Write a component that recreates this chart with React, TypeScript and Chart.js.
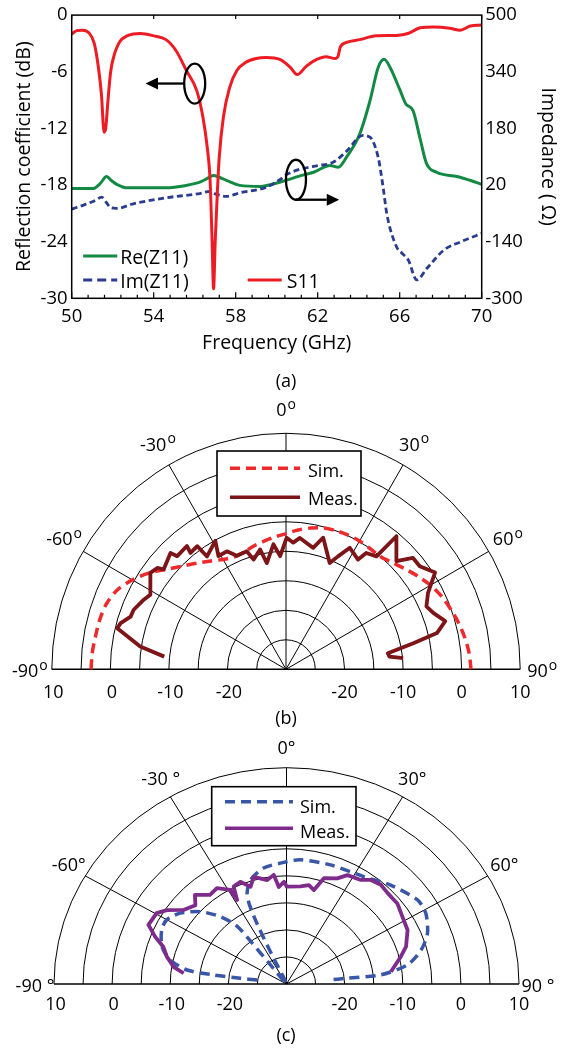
import React, { useEffect, useRef } from "react";
import { Chart, registerables } from "chart.js";

Chart.register(...registerables);

const FONT = '"Open Sans", "Liberation Sans", sans-serif';
const INK = "#000000";

/* ---------------- panel (a) data ---------------- */
const freqMin = 50;
const freqMax = 70;
const freqStep = 4;
const freqMinorStep = 0.8;
const dbMin = -30;
const dbMax = 0;
const dbStep = 6;
const ohmMin = -300;
const ohmMax = 500;
const ohmStep = 160;

const s11Freq = [50.0, 50.25, 50.5, 50.85, 51.1, 51.3, 51.45, 51.58, 51.66, 51.76, 51.9, 52.05, 52.35, 52.7, 53.0, 53.35, 54.0, 54.6, 55.1, 55.6, 56.1, 56.4, 56.6, 56.75, 56.85, 56.92, 57.0, 57.1, 57.2, 57.4, 57.7, 58.05, 58.5, 59.0, 59.5, 60.15, 60.65, 61.0, 61.45, 61.95, 62.4, 62.85, 63.0, 63.1, 63.4, 64.05, 64.85, 65.85, 66.4, 67.0, 67.65, 68.45, 68.95, 69.45, 70.0];
const s11Db = [-2.0, -1.65, -1.6, -1.9, -3.0, -5.5, -8.4, -12.4, -12.0, -9.3, -6.0, -4.4, -2.8, -2.2, -2.0, -1.95, -2.2, -2.6, -3.8, -5.9, -8.0, -10.8, -13.8, -17.5, -24.0, -29.0, -24.0, -19.0, -15.0, -10.8, -7.7, -5.9, -5.0, -4.6, -4.5, -4.7, -5.5, -6.3, -5.4, -4.7, -4.4, -4.6, -4.3, -3.4, -2.9, -2.6, -2.2, -2.15, -1.95, -1.35, -1.27, -1.4, -1.6, -1.15, -1.05];

const reFreq = [50.0, 51.05, 51.4, 51.7, 51.95, 52.2, 52.7, 54.6, 55.6, 56.25, 56.6, 56.9, 57.2, 57.55, 58.2, 59.2, 60.15, 61.1, 61.8, 62.6, 63.0, 63.4, 64.05, 64.55, 64.95, 65.24, 65.55, 66.0, 66.3, 66.65, 67.0, 67.3, 67.8, 68.8, 69.5, 70.0];
const reOhm = [10, 10, 25, 44, 32, 22, 12, 12, 19, 28, 38, 47, 42, 33, 19, 16, 28, 45, 56, 75, 70, 98, 164, 258, 352, 375, 350, 290, 249, 230, 150, 82, 56, 44, 32, 22];

const imFreq = [50.0, 50.7, 51.2, 51.46, 51.7, 51.9, 52.2, 53.0, 54.6, 56.25, 56.75, 57.0, 57.55, 58.2, 59.5, 60.15, 60.5, 61.1, 62.0, 62.75, 63.4, 64.2, 64.55, 64.95, 65.2, 65.37, 65.85, 66.1, 66.42, 66.83, 67.32, 68.15, 68.95, 70.0];
const imOhm = [-48, -34, -22, -14, -30, -44, -46, -33, -16, -4, 2, -5, -12, -2, 14, 35, 50, 64, 75, 84, 115, 160, 155, 98, 10, -61, -155, -172, -192, -248, -216, -164, -141, -117];

// annotation markers (data units)
const leftMarkerFreq = 56.0;
const leftMarkerDb = -7.25;
const leftArrowToFreq = 53.6;
const rightMarkerFreq = 60.94;
const rightMarkerDb = -17.44;
const rightArrowToFreq = 63.05;

/* ---------------- polar data ---------------- */
const polarMin = -30;
const polarMax = 10;
const polarRingStep = 5;
const polarSpokes = [-60, -30, 0, 30, 60];
const polarAngleLabels = [-90, -60, -30, 0, 30, 60, 90];
const polarValueLabels = [10, 0, -10, -20];

const simBAngle = [-90, -85, -80, -75, -70, -65, -60, -55, -50, -45, -40, -35, -30, -25, -20, -15, -10, -5, 0, 5, 10, 15, 20, 25, 30, 35, 40, 45, 50, 55, 60, 65, 70, 75, 80, 85, 90];
const simBDb = [3.3, 3.2, 3.0, 2.9, 2.6, 1.8, 0.3, -1.5, -3.6, -5.2, -6.5, -7.6, -8.5, -9.0, -8.9, -8.4, -8.0, -7.5, -7.0, -6.3, -5.7, -5.2, -5.0, -4.9, -4.9, -5.0, -5.0, -4.4, -3.5, -2.5, -1.5, -0.7, -0.1, 0.5, 1.0, 1.4, 1.6];

const measBAngle = [-84.1, -81.2, -76.4, -74.5, -71.4, -68.8, -64.1, -61.4, -54.8, -52, -51, -45, -44.1, -39, -39.6, -36, -35.2, -29, -31, -26.8, -23.6, -18.5, -16.6, -12.3, -10.3, -5.8, -3, 0.3, 3.3, 6.1, 9.3, 12.7, 15.9, 22.5, 24.9, 27.9, 33.5, 34.8, 38.9, 39.9, 45.8, 48.9, 52.6, 57.2, 61.9, 66, 69.2, 73.3, 76.6, 78.5, 81.1, 83.1, 84.6];
const measBDb = [-9.1, -4.8, -0.35, -0.7, -2.0, -2.1, -3.0, -3.6, -1.65, -2.1, -3.1, -2.1, -3.3, -3.1, -4.4, -4.2, -6.6, -5.1, -7.6, -7.6, -9.0, -8.9, -10.6, -9.2, -11.7, -8.7, -10.8, -7.7, -8.5, -7.6, -8.3, -8.9, -6.8, -10.5, -8.9, -6.7, -7.7, -6.0, -5.4, -0.6, -3.7, -1.25, -1.25, 0.3, -2.5, -3.75, -3.1, -1.6, -3.5, -7.8, -12.4, -12.2, -9.9];

const simCAngle = [-81.7, -82.4, -82.4, -81.4, -77.5, -72.2, -65, -60.1, -54.4, -48, -42.5, -38.5, -38, -38, -38, -25, -24.5, -23.5, -22, -17.9, -10.4, 0, 6, 19, 34, 44.4, 55.5, 61.4, 68.9, 74.8, 80.4, 84.1, 84.2, 84];
const simCDb = [-24.9, -22, -17.3, -12.7, -9.5, -7.5, -6.3, -6.2, -7.5, -10, -13.1, -16.3, -20, -25, -30, -24, -18, -14, -11.9, -9.8, -8.2, -7.4, -6.9, -6.7, -6.1, -4.4, -2.6, -2.7, -4.0, -6.0, -8.9, -13.7, -19.5, -22.9];

const measCAngle = [-83.6, -80.7, -76.2, -72, -68.9, -65.3, -59.6, -56.4, -52.3, -47.1, -43.7, -38.6, -34, -29.1, -28.7, -26.8, -22.8, -19, -15.9, -9.8, -6.2, -4.2, -1.3, 0.2, 7.6, 11.9, 15.2, 18.2, 24.1, 27.5, 33.6, 37, 41.5, 46, 52, 58.1, 64.4, 71.4, 75.6, 80.2, 82.8];
const measCDb = [-12.2, -10.3, -8.8, -7.7, -5.8, -3.85, -4.1, -5.3, -7.6, -8.6, -7.2, -8.9, -8.6, -10.1, -12.3, -9.8, -9.5, -11, -9.4, -10.5, -9.7, -12, -11.1, -12, -11.8, -11.3, -12, -9.4, -8.6, -7.3, -6.9, -5.9, -5.5, -5.8, -5.8, -6.5, -6.9, -8.3, -9.7, -11.2, -11.9];

/* ---------------- helpers ---------------- */
function pairs(xs: number[], ys: number[]) {
  return xs.map((x, i) => ({ x, y: ys[i] }));
}

function polarPoints(angles: number[], dbs: number[]) {
  return angles.map((a, i) => {
    const rho = Math.max(0, Math.min(1, (dbs[i] - polarMin) / (polarMax - polarMin)));
    const t = (a * Math.PI) / 180;
    return { x: rho * Math.sin(t), y: rho * Math.cos(t) };
  });
}

function font(size: number) {
  return `${size}px ${FONT}`;
}

function drawArrow(ctx: CanvasRenderingContext2D, x1: number, y: number, x2: number) {
  const dir = Math.sign(x2 - x1);
  const head = 12.5;
  const half = 6;
  ctx.beginPath();
  ctx.moveTo(x1, y);
  ctx.lineTo(x2 - dir * head, y);
  ctx.stroke();
  ctx.beginPath();
  ctx.moveTo(x2, y);
  ctx.lineTo(x2 - dir * head, y - half);
  ctx.lineTo(x2 - dir * head, y + half);
  ctx.closePath();
  ctx.fill();
}

const S11_COLOR = "#ED1C24";
const RE_COLOR = "#138A43";
const IM_COLOR = "#293C8F";

/* ---------------- panel (a) chart ---------------- */
const panelAPlugin = {
  id: "panelADecor",
  afterDatasetsDraw(chart: any) {
    const { ctx, chartArea: a } = chart;
    const xs = chart.scales.x;
    const ys = chart.scales.y;
    ctx.save();
    ctx.strokeStyle = INK;
    ctx.fillStyle = INK;
    // frame
    ctx.lineWidth = 1.5;
    ctx.strokeRect(a.left, a.top, a.right - a.left, a.bottom - a.top);
    // ticks (inward)
    ctx.lineWidth = 1.2;
    const n = Math.round((freqMax - freqMin) / freqMinorStep);
    for (let k = 0; k <= n; k++) {
      const v = freqMin + k * freqMinorStep;
      const px = xs.getPixelForValue(v);
      const major = k % Math.round(freqStep / freqMinorStep) === 0;
      ctx.beginPath();
      ctx.moveTo(px, a.bottom);
      ctx.lineTo(px, a.bottom - (major ? 6 : 3.5));
      ctx.stroke();
      if (major) {
        ctx.beginPath();
        ctx.moveTo(px, a.top);
        ctx.lineTo(px, a.top + 4);
        ctx.stroke();
      }
    }
    // annotations
    ctx.lineWidth = 2.3;
    const e1x = xs.getPixelForValue(leftMarkerFreq);
    const e1y = ys.getPixelForValue(leftMarkerDb);
    ctx.beginPath();
    ctx.ellipse(e1x, e1y, 10.5, 20, 0, 0, Math.PI * 2);
    ctx.stroke();
    drawArrow(ctx, e1x - 10.5, e1y, xs.getPixelForValue(leftArrowToFreq));
    const e2x = xs.getPixelForValue(rightMarkerFreq);
    const e2y = ys.getPixelForValue(rightMarkerDb);
    ctx.beginPath();
    ctx.ellipse(e2x, e2y, 10, 20, 0, 0, Math.PI * 2);
    ctx.stroke();
    drawArrow(ctx, e2x, e2y + 20, xs.getPixelForValue(rightArrowToFreq));

    // legend
    const lx = a.left + 11.5;
    const ly1 = a.top + 241;
    const ly2 = a.top + 265;
    ctx.lineWidth = 3;
    ctx.strokeStyle = RE_COLOR;
    ctx.beginPath();
    ctx.moveTo(lx, ly1);
    ctx.lineTo(lx + 34, ly1);
    ctx.stroke();
    ctx.strokeStyle = IM_COLOR;
    ctx.setLineDash([9, 5]);
    ctx.beginPath();
    ctx.moveTo(lx, ly2);
    ctx.lineTo(lx + 34, ly2);
    ctx.stroke();
    ctx.setLineDash([]);
    ctx.strokeStyle = S11_COLOR;
    ctx.beginPath();
    ctx.moveTo(a.left + 176, ly2);
    ctx.lineTo(a.left + 210, ly2);
    ctx.stroke();
    ctx.fillStyle = INK;
    ctx.font = font(19.5);
    ctx.textAlign = "left";
    ctx.textBaseline = "middle";
    ctx.fillText("Re(Z11)", lx + 37, ly1 + 2);
    ctx.fillText("Im(Z11)", lx + 37, ly2 + 2);
    ctx.fillText("S11", a.left + 215, ly2 + 2);

    // caption
    ctx.font = font(18);
    ctx.textAlign = "center";
    ctx.fillText("(a)", (chart.width as number) / 2 + 1.5, 382);
    ctx.restore();
  },
};

function configA(): any {
  const tickFont = { family: FONT, size: 18.5 };
  const titleFont = { family: FONT, size: 19.5 };
  return {
    type: "scatter",
    data: {
      datasets: [
        {
          label: "S11",
          data: pairs(s11Freq, s11Db),
          xAxisID: "x",
          yAxisID: "y",
          showLine: true,
          borderColor: S11_COLOR,
          borderWidth: 3,
          pointRadius: 0,
          cubicInterpolationMode: "monotone",
          order: 0,
        },
        {
          label: "Im(Z11)",
          data: pairs(imFreq, imOhm),
          xAxisID: "x",
          yAxisID: "y2",
          showLine: true,
          borderColor: IM_COLOR,
          borderWidth: 2.8,
          borderDash: [6, 3.5],
          pointRadius: 0,
          cubicInterpolationMode: "monotone",
          order: 1,
        },
        {
          label: "Re(Z11)",
          data: pairs(reFreq, reOhm),
          xAxisID: "x",
          yAxisID: "y2",
          showLine: true,
          borderColor: RE_COLOR,
          borderWidth: 3,
          pointRadius: 0,
          cubicInterpolationMode: "monotone",
          order: 2,
        },
      ],
    },
    options: {
      animation: false,
      responsive: false,
      maintainAspectRatio: false,
      events: [],
      layout: { padding: { top: 14, left: 0, right: 0, bottom: 0 } },
      plugins: { legend: { display: false }, tooltip: { enabled: false } },
      scales: {
        x: {
          type: "linear",
          position: "bottom",
          min: freqMin,
          max: freqMax,
          ticks: { stepSize: freqStep, color: INK, font: tickFont, padding: 7.5, maxRotation: 0, autoSkip: false },
          grid: { display: false, drawTicks: false },
          border: { display: false },
          title: { display: true, text: "Frequency (GHz)", color: INK, font: titleFont, padding: { top: 0, bottom: 40 } },
          afterFit: (s: any) => {
            s.height = 96.7;
          },
        },
        y: {
          type: "linear",
          position: "left",
          min: dbMin,
          max: dbMax,
          ticks: { stepSize: dbStep, color: INK, font: tickFont, padding: 4 },
          grid: { display: false, drawTicks: false },
          border: { display: false },
          title: { display: true, text: "Reflection coefficient (dB)", color: INK, font: titleFont, padding: { top: 13, bottom: 0 } },
          afterFit: (s: any) => {
            s.width = 71.7;
          },
        },
        y2: {
          type: "linear",
          position: "right",
          min: ohmMin,
          max: ohmMax,
          ticks: { stepSize: ohmStep, color: INK, font: tickFont, padding: 3.5 },
          grid: { display: false, drawTicks: false },
          border: { display: false },
          title: { display: true, text: "Impedance ( Ω)", color: INK, font: titleFont, padding: { top: 10, bottom: 0 } },
          afterFit: (s: any) => {
            s.width = 87.3;
          },
        },
      },
    },
    plugins: [panelAPlugin],
  };
}

/* ---------------- polar charts ---------------- */
function polarPlugin(spec: any) {
  return {
    id: "polarDecor",
    beforeDatasetsDraw(chart: any) {
      const { ctx } = chart;
      const xs = chart.scales.x;
      const ys = chart.scales.y;
      const cx = xs.getPixelForValue(0);
      const cy = ys.getPixelForValue(0);
      const rx = xs.getPixelForValue(1) - cx;
      const ry = cy - ys.getPixelForValue(1);
      ctx.save();
      ctx.strokeStyle = INK;
      ctx.lineWidth = 1;
      for (let v = polarMin + polarRingStep; v <= polarMax + 1e-9; v += polarRingStep) {
        const rho = (v - polarMin) / (polarMax - polarMin);
        ctx.beginPath();
        ctx.ellipse(cx, cy, rx * rho, ry * rho, 0, Math.PI, Math.PI * 2);
        ctx.stroke();
      }
      polarSpokes.forEach((a) => {
        const t = (a * Math.PI) / 180;
        ctx.beginPath();
        ctx.moveTo(cx, cy);
        ctx.lineTo(cx + rx * Math.sin(t), cy - ry * Math.cos(t));
        ctx.stroke();
      });
      ctx.lineWidth = 1.4;
      ctx.beginPath();
      ctx.moveTo(cx - rx, cy);
      ctx.lineTo(cx + rx, cy);
      ctx.stroke();
      ctx.restore();
    },
    afterDatasetsDraw(chart: any) {
      const { ctx } = chart;
      const xs = chart.scales.x;
      const ys = chart.scales.y;
      const cx = xs.getPixelForValue(0);
      const cy = ys.getPixelForValue(0);
      const rx = xs.getPixelForValue(1) - cx;
      const ry = cy - ys.getPixelForValue(1);
      ctx.save();
      ctx.fillStyle = INK;
      ctx.textBaseline = "middle";
      // value labels
      ctx.font = font(18);
      ctx.textAlign = "center";
      polarValueLabels.forEach((v) => {
        const rho = (v - polarMin) / (polarMax - polarMin);
        ctx.fillText(String(v), cx - rx * rho + 1.5, cy + spec.valueOffset);
        ctx.fillText(String(v), cx + rx * rho, cy + spec.valueOffset);
      });
      // angle labels
      polarAngleLabels.forEach((a, i) => {
        const t = (a * Math.PI) / 180;
        const off = spec.angleOffset;
        const px = cx + (rx + off) * Math.sin(t);
        const py = cy - (ry + off) * Math.cos(t) + (Math.abs(a) === 90 ? 3 : 0);
        if (spec.supO) {
          const main = String(a);
          ctx.font = font(18);
          const wm = ctx.measureText(main).width;
          ctx.font = font(14);
          const ws = ctx.measureText("o").width;
          const x0 = px - (wm + ws + 1) / 2;
          ctx.textAlign = "left";
          ctx.font = font(18);
          ctx.fillText(main, x0, py);
          ctx.font = font(14);
          ctx.fillText("o", x0 + wm + 1, py - 6.5);
        } else {
          ctx.font = font(18);
          ctx.textAlign = "center";
          ctx.fillText(spec.angleText[i], px, py);
        }
      });
      // legend
      const L = spec.legend;
      ctx.fillStyle = "#ffffff";
      ctx.fillRect(L.x, L.y, L.w, L.h);
      ctx.strokeStyle = INK;
      ctx.lineWidth = 1.6;
      ctx.strokeRect(L.x, L.y, L.w, L.h);
      ctx.lineWidth = 3.5;
      ctx.strokeStyle = spec.simColor;
      ctx.setLineDash(spec.simDash);
      ctx.beginPath();
      ctx.moveTo(L.lineX1, L.rowY[0]);
      ctx.lineTo(L.lineX2, L.rowY[0]);
      ctx.stroke();
      ctx.setLineDash([]);
      ctx.strokeStyle = spec.measColor;
      ctx.beginPath();
      ctx.moveTo(L.lineX1, L.rowY[1]);
      ctx.lineTo(L.lineX2, L.rowY[1]);
      ctx.stroke();
      ctx.fillStyle = INK;
      ctx.font = font(18);
      ctx.textAlign = "left";
      ctx.fillText("Sim.", L.textX, L.textY[0]);
      ctx.fillText("Meas.", L.textX, L.textY[1]);
      // caption
      ctx.textAlign = "center";
      ctx.fillText(spec.caption, (chart.width as number) / 2 + 1.5, spec.captionY);
      ctx.restore();
    },
  };
}

function configPolar(spec: any): any {
  return {
    type: "scatter",
    data: {
      datasets: [
        {
          label: "Sim.",
          data: polarPoints(spec.simAngle, spec.simDb),
          showLine: true,
          borderColor: spec.simColor,
          borderWidth: 3.5,
          borderDash: spec.simDash,
          pointRadius: 0,
          tension: spec.simTension,
          clip: false,
          order: 1,
        },
        {
          label: "Meas.",
          data: polarPoints(spec.measAngle, spec.measDb),
          showLine: true,
          borderColor: spec.measColor,
          borderWidth: 3.8,
          pointRadius: 0,
          tension: 0,
          borderJoinStyle: "round",
          clip: false,
          order: 0,
        },
      ],
    },
    options: {
      animation: false,
      responsive: false,
      maintainAspectRatio: false,
      events: [],
      layout: { padding: spec.padding },
      plugins: { legend: { display: false }, tooltip: { enabled: false } },
      scales: {
        x: { type: "linear", min: -1, max: 1, display: false },
        y: { type: "linear", min: 0, max: 1, display: false },
      },
    },
    plugins: [polarPlugin(spec)],
  };
}

const specB = {
  padding: { left: 51.8, right: 48.8, top: 38.3, bottom: 60.7 },
  simAngle: simBAngle,
  simDb: simBDb,
  measAngle: measBAngle,
  measDb: measBDb,
  simColor: "#EE2A2D",
  simDash: [10, 6],
  simTension: 0.3,
  measColor: "#7D1518",
  supO: true,
  angleText: [],
  angleOffset: 22,
  valueOffset: 23.5,
  legend: { x: 217, y: 56, w: 144, h: 65, rowY: [73.3, 102.3], textY: [76.5, 105], lineX1: 230, lineX2: 300, textX: 308 },
  caption: "(b)",
  captionY: 324,
};

const specC = {
  padding: { left: 54, right: 50, top: 37.7, bottom: 65 },
  simAngle: simCAngle,
  simDb: simCDb,
  measAngle: measCAngle,
  measDb: measCDb,
  simColor: "#3A56A8",
  simDash: [10, 6],
  simTension: 0.25,
  measColor: "#7E2B8C",
  supO: false,
  angleText: ["-90 °", "-60°", "-30 °", "0°", "30°", "60°", "90 °"],
  angleOffset: 19,
  valueOffset: 21,
  legend: { x: 211.7, y: 56.7, w: 144.3, h: 59, rowY: [71.7, 98.3], textY: [77.5, 103], lineX1: 225, lineX2: 293, textX: 300 },
  caption: "(c)",
  captionY: 306,
};

export default function App() {
  const refA = useRef<HTMLCanvasElement>(null);
  const refB = useRef<HTMLCanvasElement>(null);
  const refC = useRef<HTMLCanvasElement>(null);

  useEffect(() => {
    Chart.defaults.font.family = FONT;
    const charts = [
      new Chart(refA.current as HTMLCanvasElement, configA()),
      new Chart(refB.current as HTMLCanvasElement, configPolar(specB)),
      new Chart(refC.current as HTMLCanvasElement, configPolar(specC)),
    ];
    return () => charts.forEach((c) => c.destroy());
  }, []);

  return (
    <div style={{ position: "absolute", left: 0, top: 0, width: 569, height: 1049, background: "#ffffff" }}>
      <canvas ref={refA} width={569} height={395} style={{ position: "absolute", left: 0, top: 0, display: "block" }} />
      <canvas ref={refB} width={569} height={335} style={{ position: "absolute", left: 0, top: 395, display: "block" }} />
      <canvas ref={refC} width={569} height={319} style={{ position: "absolute", left: 0, top: 730, display: "block" }} />
    </div>
  );
}
